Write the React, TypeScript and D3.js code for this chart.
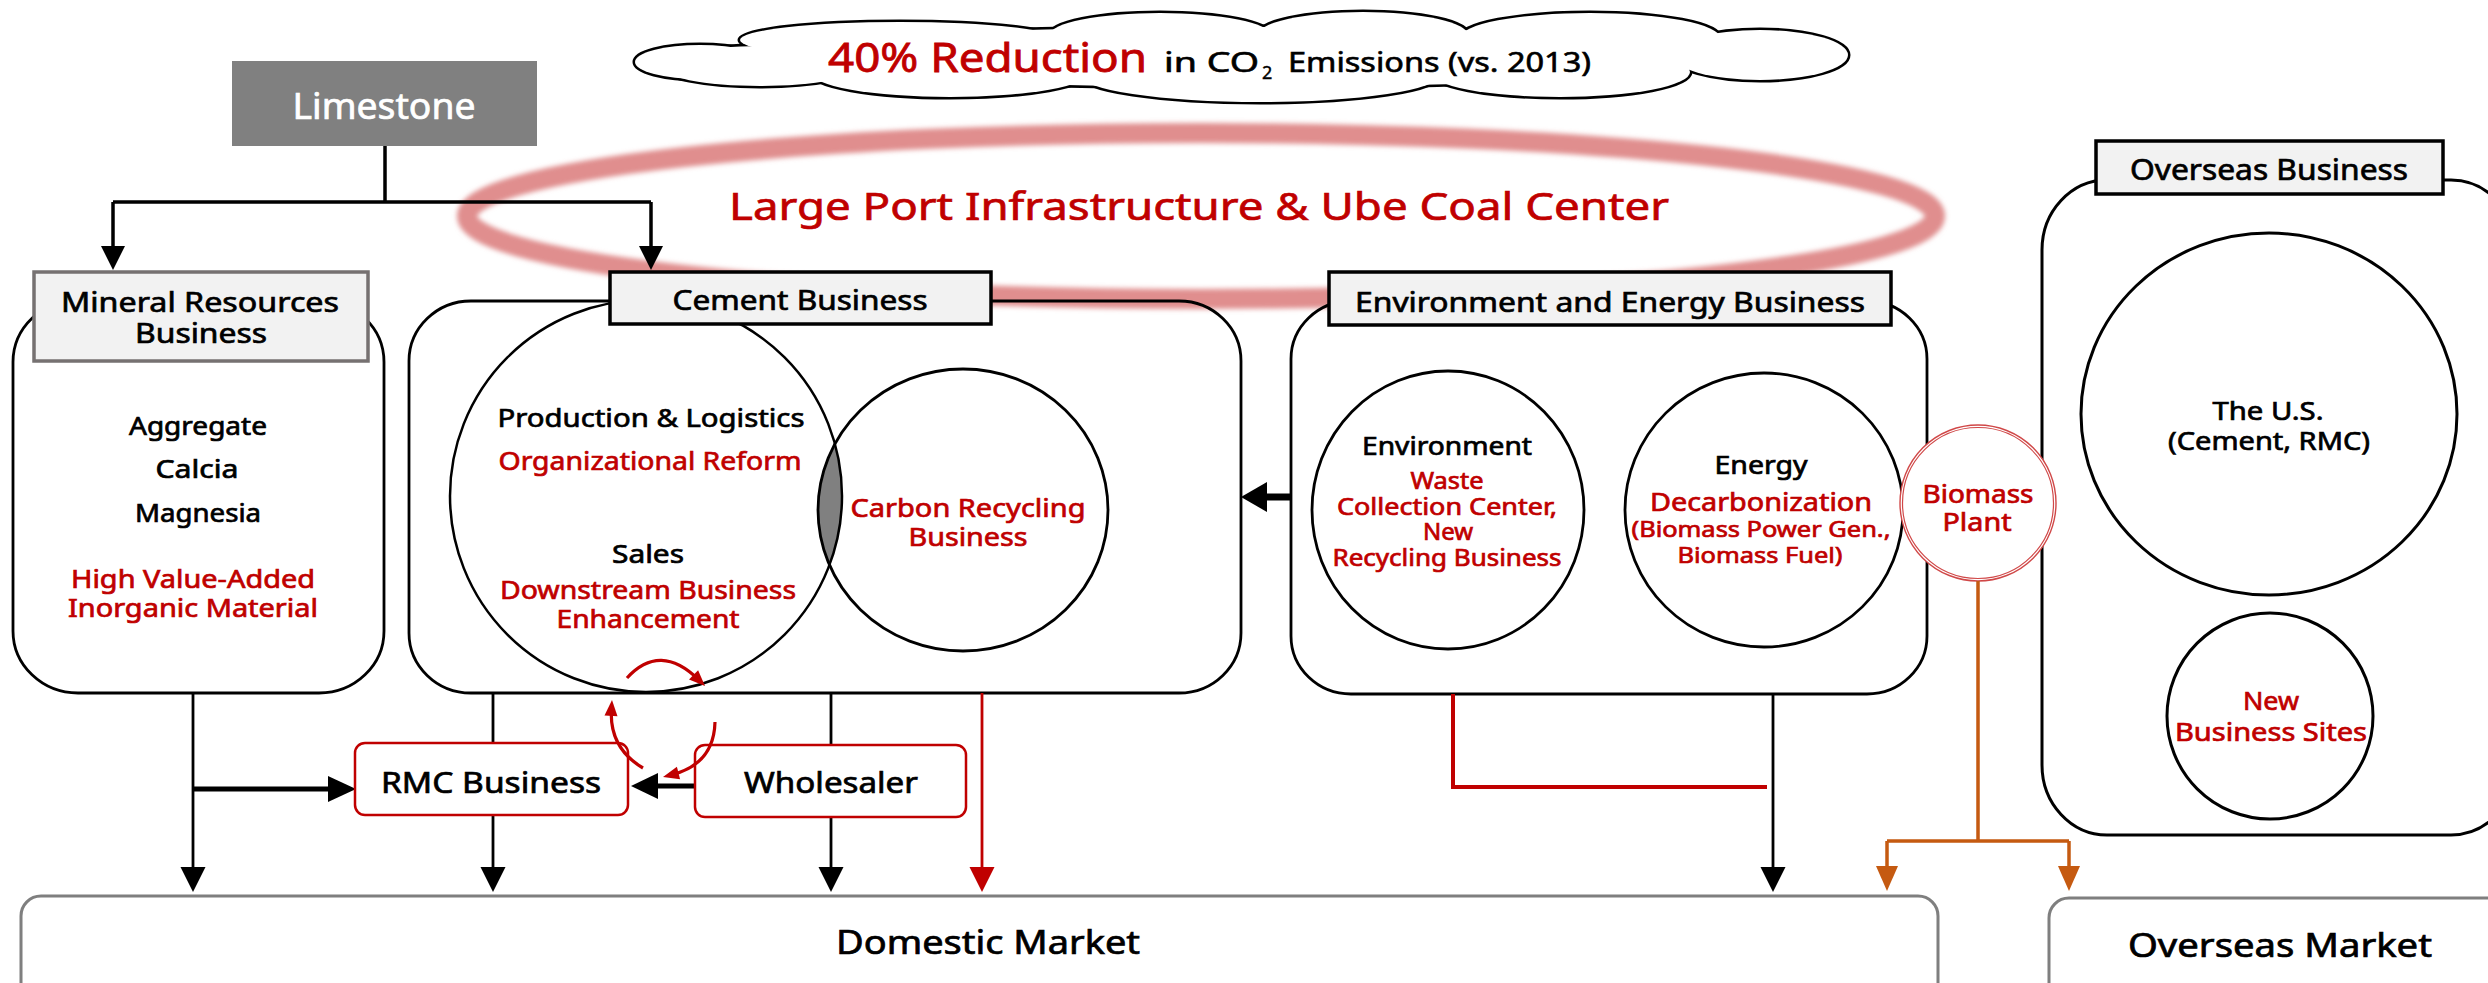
import React from "react";
import * as d3 from "d3";

const RED = "#c00000";
const ORANGE = "#c55a11";
const GRAY = "#808080";
const FONT = "'Noto Sans', 'Open Sans', 'DejaVu Sans', sans-serif";

// ---------- text content ----------
const goalLabels = ["40% Reduction", "in CO", "2", "Emissions (vs. 2013)"];
const hubLabel = ["Large Port Infrastructure & Ube Coal Center"];
const sourceLabel = ["Limestone"];
const headerLabels = ["Mineral Resources", "Business", "Cement Business", "Environment and Energy Business", "Overseas Business"];
const mineralLines = ["Aggregate", "Calcia", "Magnesia"];
const mineralRed = ["High Value-Added", "Inorganic Material"];
const cementLines = ["Production & Logistics", "Sales"];
const cementRed = ["Organizational Reform", "Downstream Business", "Enhancement"];
const carbonRed = ["Carbon Recycling", "Business"];
const envLines = ["Environment", "Energy"];
const envRed = ["Waste", "Collection Center,", "New", "Recycling Business"];
const energyRed = ["Decarbonization", "(Biomass Power Gen.,", "Biomass Fuel)"];
const biomassRed = ["Biomass", "Plant"];
const usLines = ["The U.S.", "(Cement, RMC)"];
const newSitesRed = ["New", "Business Sites"];
const channelLabels = ["RMC Business", "Wholesaler"];
const marketLabels = ["Domestic Market", "Overseas Market"];

// ---------- layout (label, cx, baseline, size, width, colour) ----------
type TL = [string, number, number, number, number, string];
const textLayout: TL[] = [
  [sourceLabel[0], 384, 119, 36, 183, "#fff"],
  [hubLabel[0], 1199, 220, 39, 940, RED],
  [headerLabels[0], 200, 312, 28, 278, "#000"],
  [headerLabels[1], 201, 343, 28, 132, "#000"],
  [headerLabels[2], 800, 310, 28, 255, "#000"],
  [headerLabels[3], 1610, 312, 28, 510, "#000"],
  [headerLabels[4], 2269, 180, 29, 278, "#000"],
  [mineralLines[0], 198, 435, 25, 138, "#000"],
  [mineralLines[1], 197, 478, 25, 83, "#000"],
  [mineralLines[2], 198, 522, 25, 126, "#000"],
  [mineralRed[0], 193, 588, 25, 244, RED],
  [mineralRed[1], 193, 617, 25, 250, RED],
  [cementLines[0], 651, 427, 26, 307, "#000"],
  [cementRed[0], 650, 470, 26, 303, RED],
  [cementLines[1], 648, 563, 26, 72, "#000"],
  [cementRed[1], 648, 599, 26, 296, RED],
  [cementRed[2], 648, 628, 26, 183, RED],
  [carbonRed[0], 968, 517, 26, 235, RED],
  [carbonRed[1], 968, 546, 26, 119, RED],
  [envLines[0], 1447, 455, 25, 170, "#000"],
  [envRed[0], 1447, 489, 23, 73, RED],
  [envRed[1], 1447, 515, 23, 220, RED],
  [envRed[2], 1448, 540, 23, 50, RED],
  [envRed[3], 1447, 566, 23, 229, RED],
  [envLines[1], 1761, 474, 25, 93, "#000"],
  [energyRed[0], 1761, 511, 25, 222, RED],
  [energyRed[1], 1761, 537, 22, 259, RED],
  [energyRed[2], 1760, 563, 22, 165, RED],
  [biomassRed[0], 1978, 503, 25, 111, RED],
  [biomassRed[1], 1977, 531, 25, 69, RED],
  [usLines[0], 2268, 420, 25, 111, "#000"],
  [usLines[1], 2269, 450, 25, 202, "#000"],
  [newSitesRed[0], 2271, 710, 25, 56, RED],
  [newSitesRed[1], 2271, 741, 25, 192, RED],
  [channelLabels[0], 491, 793, 29, 220, "#000"],
  [channelLabels[1], 831, 793, 29, 174, "#000"],
  [marketLabels[0], 988, 954, 32, 304, "#000"],
  [marketLabels[1], 2280, 957, 32, 304, "#000"],
];

// cloud lobes: cx, cy, rx, ry
const cloudLobes: number[][] = [
  [700, 62, 65, 17], [900, 40, 160, 18], [1160, 35, 110, 22], [1363, 35, 105, 23],
  [1590, 38, 130, 25], [1760, 55, 88, 25], [1560, 72, 130, 25], [1260, 75, 180, 27],
  [950, 72, 140, 25], [760, 66, 100, 20], [1240, 57, 480, 30],
];

function headPath(tx: number, ty: number, fx: number, fy: number, len: number, wid: number) {
  const dx = tx - fx, dy = ty - fy, L = Math.hypot(dx, dy) || 1;
  const ux = dx / L, uy = dy / L;
  const bx = tx - ux * len, by = ty - uy * len;
  const px = (-uy * wid) / 2, py = (ux * wid) / 2;
  const p = d3.path();
  p.moveTo(tx, ty);
  p.lineTo(bx + px, by + py);
  p.lineTo(bx - px, by - py);
  p.closePath();
  return p.toString();
}

function Arrow({ pts, color, sw, len, wid }: { pts: number[][]; color: string; sw: number; len: number; wid: number }) {
  const n = pts.length;
  const [tx, ty] = pts[n - 1];
  const [fx, fy] = pts[n - 2];
  const L = Math.hypot(tx - fx, ty - fy) || 1;
  const ux = (tx - fx) / L, uy = (ty - fy) / L;
  const p = d3.path();
  p.moveTo(pts[0][0], pts[0][1]);
  for (let i = 1; i < n - 1; i++) p.lineTo(pts[i][0], pts[i][1]);
  p.lineTo(tx - ux * len * 0.7, ty - uy * len * 0.7);
  return (
    <g>
      <path d={p.toString()} fill="none" stroke={color} strokeWidth={sw} />
      <path d={headPath(tx, ty, fx, fy, len, wid)} fill={color} />
    </g>
  );
}

function CurveArrow({ s, c, e }: { s: number[]; c: number[]; e: number[] }) {
  const p = d3.path();
  p.moveTo(s[0], s[1]);
  const L = Math.hypot(e[0] - c[0], e[1] - c[1]);
  const ux = (e[0] - c[0]) / L, uy = (e[1] - c[1]) / L;
  p.quadraticCurveTo(c[0], c[1], e[0] - ux * 9, e[1] - uy * 9);
  return (
    <g>
      <path d={p.toString()} fill="none" stroke={RED} strokeWidth={3.2} />
      <path d={headPath(e[0], e[1], c[0], c[1], 16, 13)} fill={RED} />
    </g>
  );
}

function Txt({ t }: { t: TL }) {
  const [label, x, y, s, w, c] = t;
  return (
    <text x={x} y={y} fontSize={s} fill={c} stroke={c} strokeWidth={0.7} textAnchor="middle" textLength={w}
      lengthAdjust="spacingAndGlyphs" fontFamily={FONT}>{label}</text>
  );
}

function HeaderBox({ x, y, w, h, stroke }: { x: number; y: number; w: number; h: number; stroke: string }) {
  return <rect x={x} y={y} width={w} height={h} fill="#f2f2f2" stroke={stroke} strokeWidth={3.5} />;
}

export default function App() {
  return (
    <svg width={2488} height={983} viewBox="0 0 2488 983"
      style={{ position: "absolute", left: 0, top: 0, background: "#fff" }}>
      <defs>
        <filter id="blur" x="-10%" y="-50%" width="120%" height="200%">
          <feGaussianBlur stdDeviation={2.6} />
        </filter>
        <clipPath id="bigClip">
          <ellipse cx={646} cy={496} rx={196} ry={196} />
        </clipPath>
      </defs>
      <rect x={0} y={0} width={2488} height={983} fill="#fff" />

      {/* pink ring */}
      <ellipse cx={1201} cy={216} rx={734} ry={83} fill="none" stroke="#e08e8e" strokeWidth={20} filter="url(#blur)" />

      {/* cloud */}
      <g>
        {cloudLobes.map((e, i) => (
          <ellipse key={"cs" + i} cx={e[0]} cy={e[1]} rx={e[2]} ry={e[3]} fill="#fff" stroke="#000" strokeWidth={5} />
        ))}
        {cloudLobes.map((e, i) => (
          <ellipse key={"cf" + i} cx={e[0]} cy={e[1]} rx={e[2]} ry={e[3]} fill="#fff" />
        ))}
      </g>
      <text x={828} y={72} fontSize={40} fill={RED} stroke={RED} strokeWidth={0.8} textLength={319} lengthAdjust="spacingAndGlyphs" fontFamily={FONT}>{goalLabels[0]}</text>
      <text x={1164} y={72} fontSize={27} fill="#000" stroke="#000" strokeWidth={0.6} textLength={95} lengthAdjust="spacingAndGlyphs" fontFamily={FONT}>{goalLabels[1]}</text>
      <text x={1262} y={79} fontSize={18} fill="#000" stroke="#000" strokeWidth={0.4} fontFamily={FONT}>{goalLabels[2]}</text>
      <text x={1288} y={72} fontSize={27} fill="#000" stroke="#000" strokeWidth={0.6} textLength={303} lengthAdjust="spacingAndGlyphs" fontFamily={FONT}>{goalLabels[3]}</text>

      {/* limestone */}
      <rect x={232} y={61} width={305} height={85} fill={GRAY} />
      <path d="M385,146V202M113,202H651" fill="none" stroke="#000" strokeWidth={3.5} />
      <Arrow pts={[[113, 202], [113, 270]]} color="#000" sw={3.5} len={24} wid={24} />
      <Arrow pts={[[651, 202], [651, 270]]} color="#000" sw={3.5} len={24} wid={24} />

      {/* business rounded containers */}
      <rect x={13} y={300} width={371} height={393} rx={65} ry={62} fill="none" stroke="#000" strokeWidth={2.8} />
      <rect x={409} y={301} width={832} height={392} rx={62} ry={60} fill="none" stroke="#000" strokeWidth={2.8} />
      <rect x={1291} y={301} width={636} height={393} rx={60} ry={58} fill="none" stroke="#000" strokeWidth={2.8} />
      <rect x={2042} y={180} width={474} height={655} rx={65} ry={70} fill="none" stroke="#000" strokeWidth={3} />

      {/* cement venn */}
      <ellipse cx={963} cy={510} rx={145} ry={141} fill={GRAY} clipPath="url(#bigClip)" />
      <ellipse cx={646} cy={496} rx={196} ry={196} fill="none" stroke="#000" strokeWidth={2.5} />
      <ellipse cx={963} cy={510} rx={145} ry={141} fill="none" stroke="#000" strokeWidth={2.8} />

      {/* env ellipses */}
      <ellipse cx={1448} cy={510} rx={136} ry={139} fill="none" stroke="#000" strokeWidth={2.8} />
      <ellipse cx={1764} cy={510} rx={139} ry={137} fill="none" stroke="#000" strokeWidth={2.8} />

      {/* overseas ellipses */}
      <ellipse cx={2269} cy={414} rx={188} ry={181} fill="none" stroke="#000" strokeWidth={3} />
      <ellipse cx={2270} cy={716} rx={103} ry={103} fill="none" stroke="#000" strokeWidth={3} />

      {/* headers */}
      <HeaderBox x={34} y={272} w={334} h={89} stroke="#767171" />
      <HeaderBox x={610} y={272} w={381} h={52} stroke="#000" />
      <HeaderBox x={1329} y={272} w={562} h={53} stroke="#000" />
      <HeaderBox x={2096} y={141} w={347} h={53} stroke="#000" />

      {/* biomass plant */}
      <circle cx={1978} cy={503} r={78} fill="#fff" stroke="#d04848" strokeWidth={1.4} />
      <circle cx={1978} cy={503} r={75.5} fill="none" stroke="#d04848" strokeWidth={1.2} />

      {/* env -> cement arrow */}
      <Arrow pts={[[1291, 497], [1241, 497]]} color="#000" sw={7} len={26} wid={30} />

      {/* lower flows */}
      <path d="M493,693V743M831,693V745" fill="none" stroke="#000" strokeWidth={2.8} />
      <Arrow pts={[[193, 693], [193, 892]]} color="#000" sw={2.8} len={25} wid={25} />
      <Arrow pts={[[493, 815], [493, 892]]} color="#000" sw={2.8} len={25} wid={25} />
      <Arrow pts={[[831, 817], [831, 892]]} color="#000" sw={2.8} len={25} wid={25} />
      <Arrow pts={[[982, 693], [982, 892]]} color={RED} sw={2.8} len={25} wid={25} />
      <Arrow pts={[[193, 789], [356, 789]]} color="#000" sw={5} len={28} wid={26} />
      <Arrow pts={[[695, 786], [631, 786]]} color="#000" sw={5} len={27} wid={26} />
      <path d="M1453,694V787H1767" fill="none" stroke={RED} strokeWidth={4} />
      <Arrow pts={[[1773, 694], [1773, 892]]} color="#000" sw={2.8} len={25} wid={25} />
      <path d="M1978,581V841M1887,841H2069" fill="none" stroke={ORANGE} strokeWidth={3.5} />
      <Arrow pts={[[1887, 841], [1887, 891]]} color={ORANGE} sw={3.5} len={25} wid={22} />
      <Arrow pts={[[2069, 841], [2069, 891]]} color={ORANGE} sw={3.5} len={25} wid={22} />

      {/* channel boxes */}
      <rect x={355} y={743} width={273} height={72} rx={10} fill="#fff" stroke={RED} strokeWidth={2.5} />
      <rect x={695} y={745} width={271} height={72} rx={10} fill="#fff" stroke={RED} strokeWidth={2.5} />

      {/* red cycle arrows */}
      <CurveArrow s={[627, 678]} c={[660, 642]} e={[705, 686]} />
      <CurveArrow s={[715, 722]} c={[714, 764]} e={[663, 777]} />
      <CurveArrow s={[643, 768]} c={[609, 748]} e={[612, 700]} />

      {/* markets */}
      <rect x={21} y={896} width={1917} height={130} rx={20} fill="#fff" stroke="#7f7f7f" strokeWidth={3} />
      <rect x={2049} y={898} width={480} height={130} rx={20} fill="#fff" stroke="#7f7f7f" strokeWidth={3} />

      {textLayout.map((t, i) => <Txt key={i} t={t} />)}
    </svg>
  );
}
